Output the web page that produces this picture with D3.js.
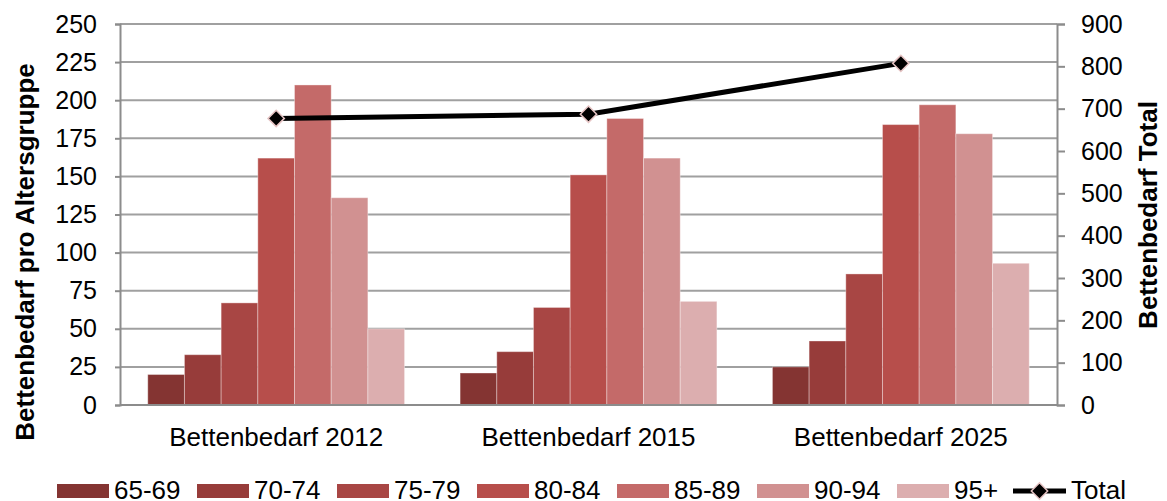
<!DOCTYPE html>
<html>
<head>
<meta charset="utf-8">
<script src="https://cdn.jsdelivr.net/npm/d3@7"></script>
<style>
  html, body { margin: 0; padding: 0; background: #fff; }
  svg { display: block; font-family: "Liberation Sans", Arial, sans-serif; }
</style>
</head>
<body>
<svg id="chart" width="1167" height="501"></svg>
<script>
// Bed demand per age group for three reference years, plus total (right axis)
const categories = ["Bettenbedarf 2012", "Bettenbedarf 2015", "Bettenbedarf 2025"];
const ageGroups = ["65-69", "70-74", "75-79", "80-84", "85-89", "90-94", "95+"];
const values2012 = [20, 33, 67, 162, 210, 136, 50];
const values2015 = [21, 35, 64, 151, 188, 162, 68];
const values2025 = [25, 42, 86, 184, 197, 178, 93];
const totals = [677, 687, 807];
const leftTicks = [0, 25, 50, 75, 100, 125, 150, 175, 200, 225, 250];
const rightTicks = [0, 100, 200, 300, 400, 500, 600, 700, 800, 900];
const colors = ["#843432", "#973c3a", "#a84644", "#b74e4b", "#c46a69", "#d19191", "#dcaeaf"];

const seriesByCategory = [values2012, values2015, values2025];

const svg = d3.select("#chart");
const plot = { left: 120, right: 1057, top: 24, bottom: 405 };
const fontSize = 26;
const tickFont = 25;

const x0 = d3.scaleBand().domain(categories).range([plot.left, plot.right]).padding(0);
const x1 = d3.scaleBand().domain(ageGroups).range([0, x0.bandwidth()])
  .paddingInner(0).paddingOuter(0.757);
const yL = d3.scaleLinear().domain([0, 250]).range([plot.bottom, plot.top]);
const yR = d3.scaleLinear().domain([0, 900]).range([plot.bottom, plot.top]);
const color = d3.scaleOrdinal().domain(ageGroups).range(colors);

const gridColor = "#a0a0a0";
const axisColor = "#8c8c8c";

// horizontal gridlines
svg.append("g").selectAll("line").data(leftTicks.slice(1)).join("line")
  .attr("x1", plot.left).attr("x2", plot.right)
  .attr("y1", d => yL(d)).attr("y2", d => yL(d))
  .attr("stroke", gridColor).attr("stroke-width", 2);

// bars
const groups = svg.append("g").selectAll("g").data(categories).join("g")
  .attr("transform", d => `translate(${x0(d)},0)`);
groups.selectAll("rect")
  .data((c, i) => ageGroups.map((a, j) => ({ age: a, value: seriesByCategory[i][j] })))
  .join("rect")
  .attr("x", d => x1(d.age))
  .attr("y", d => yL(d.value))
  .attr("width", x1.bandwidth())
  .attr("height", d => yL(0) - yL(d.value))
  .attr("fill", d => color(d.age))
  .attr("stroke", "rgba(255,255,255,0.35)")
  .attr("stroke-width", 1);

// left axis
const axL = svg.append("g").attr("transform", `translate(${plot.left},0)`)
  .call(d3.axisLeft(yL).tickValues(leftTicks).tickSize(5).tickPadding(18).tickFormat(d3.format("d")));
axL.select(".domain").attr("stroke", axisColor).attr("stroke-width", 2);
axL.selectAll(".tick line").attr("stroke", axisColor).attr("stroke-width", 2);
axL.selectAll(".tick text").attr("font-size", tickFont).attr("fill", "#000")
  .attr("font-family", "Liberation Sans, Arial, sans-serif");

// right axis
const axR = svg.append("g").attr("transform", `translate(${plot.right},0)`)
  .call(d3.axisRight(yR).tickValues(rightTicks).tickSize(8).tickPadding(16).tickFormat(d3.format("d")));
axR.select(".domain").attr("stroke", axisColor).attr("stroke-width", 2);
axR.selectAll(".tick line").attr("stroke", axisColor).attr("stroke-width", 2);
axR.selectAll(".tick text").attr("font-size", tickFont).attr("fill", "#000")
  .attr("font-family", "Liberation Sans, Arial, sans-serif");

// bottom axis line and category labels
svg.append("line").attr("x1", plot.left).attr("x2", plot.right)
  .attr("y1", plot.bottom).attr("y2", plot.bottom)
  .attr("stroke", axisColor).attr("stroke-width", 2);
svg.append("g").selectAll("text").data(categories).join("text")
  .attr("x", d => x0(d) + x0.bandwidth() / 2)
  .attr("y", 446)
  .attr("text-anchor", "middle")
  .attr("font-size", fontSize)
  .text(d => d);

// axis titles
svg.append("text")
  .attr("transform", "translate(34,252) rotate(-90)")
  .attr("text-anchor", "middle").attr("font-size", fontSize).attr("font-weight", "bold")
  .text("Bettenbedarf pro Altersgruppe");
svg.append("text")
  .attr("transform", "translate(1157,215) rotate(-90)")
  .attr("text-anchor", "middle").attr("font-size", fontSize).attr("font-weight", "bold")
  .text("Bettenbedarf Total");

// total line with diamond markers (right axis)
const cx = d => x0(d) + x0.bandwidth() / 2;
const lineData = categories.map((c, i) => ({ cat: c, value: totals[i] }));
svg.append("path").datum(lineData)
  .attr("d", d3.line().x(d => cx(d.cat)).y(d => yR(d.value)))
  .attr("fill", "none").attr("stroke", "#000").attr("stroke-width", 5);
const diamond = d3.symbol().type(d3.symbolDiamond2).size(170);
svg.append("g").selectAll("path").data(lineData).join("path")
  .attr("transform", d => `translate(${cx(d.cat)},${yR(d.value)})`)
  .attr("d", diamond)
  .attr("fill", "#000").attr("stroke", "#e6c4c4").attr("stroke-width", 1.5);

// legend
const legend = svg.append("g");
const legItems = legend.selectAll("g").data(ageGroups).join("g")
  .attr("transform", (d, i) => `translate(${57 + i * 140},484)`);
legItems.append("rect").attr("width", 52).attr("height", 14).attr("fill", d => color(d));
legItems.append("text").attr("x", 57).attr("y", 15).attr("font-size", fontSize).text(d => d);

const totalLeg = legend.append("g").attr("transform", `translate(${57 + 7 * 140 - 24},491)`);
totalLeg.append("line").attr("x1", 0).attr("x2", 53).attr("y1", 0).attr("y2", 0)
  .attr("stroke", "#000").attr("stroke-width", 5);
totalLeg.append("path").attr("transform", "translate(26.5,0)").attr("d", diamond)
  .attr("fill", "#000").attr("stroke", "#e6c4c4").attr("stroke-width", 1.5);
totalLeg.append("text").attr("x", 58).attr("y", 8).attr("font-size", fontSize).text("Total");
</script>
</body>
</html>
